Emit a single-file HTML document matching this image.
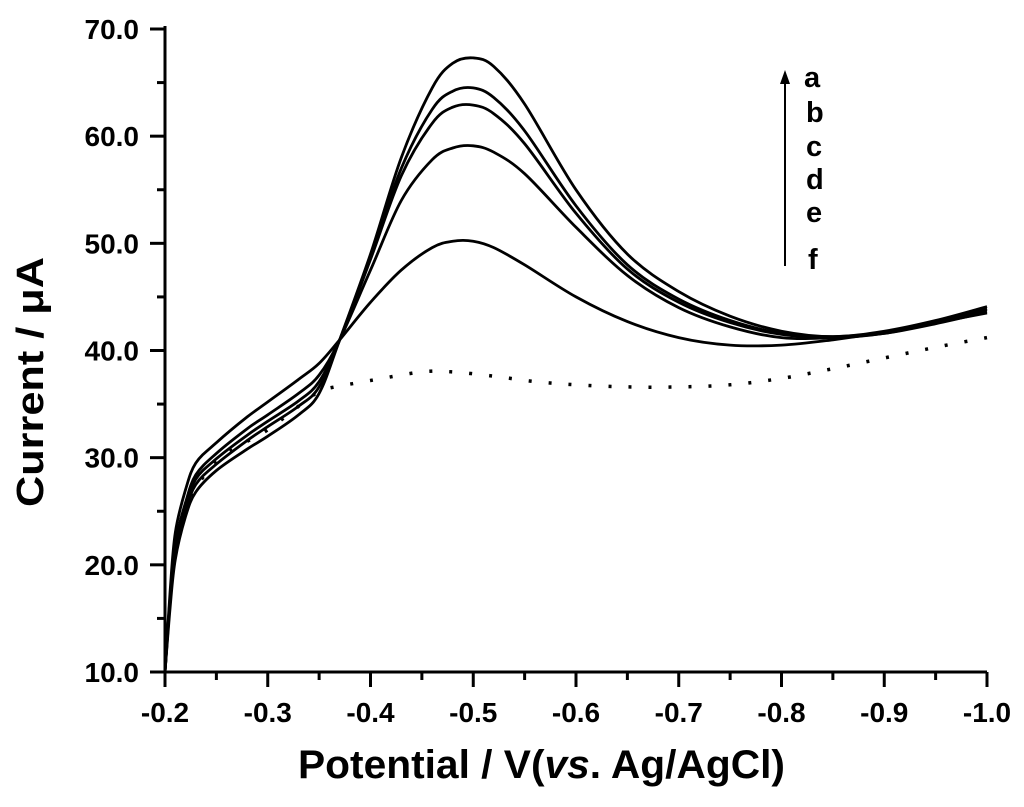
<!DOCTYPE html>
<html><head><meta charset="utf-8"><style>
html,body{margin:0;padding:0;background:#fff;}
svg{display:block;font-family:"Liberation Sans",Arial,sans-serif;font-weight:bold;}
</style></head><body>
<svg id="chart" width="1024" height="807" viewBox="0 0 1024 807" xmlns="http://www.w3.org/2000/svg">
<g id="axes"></g>
<g id="plot"></g>
<text x="0" y="0" transform="translate(43,382) rotate(-90)" text-anchor="middle" font-size="38" textLength="250" lengthAdjust="spacingAndGlyphs">Current / μA</text>
<text x="298" y="778" font-size="40" textLength="487" lengthAdjust="spacingAndGlyphs">Potential / V(<tspan font-style="italic">vs</tspan>. Ag/AgCl)</text>
<g>
<line x1="785" y1="266" x2="785" y2="80" stroke="#000" stroke-width="2"/>
<polygon points="785,70 780,84 790,84" fill="#000"/>
<text x="804" y="87" font-size="29">a</text>
<text x="806" y="122" font-size="29">b</text>
<text x="806" y="156" font-size="29">c</text>
<text x="806" y="189" font-size="29">d</text>
<text x="806" y="222" font-size="29">e</text>
<text x="808" y="269" font-size="29">f</text>
</g>
</svg>
<script>
const potentials = [-0.2,-0.205,-0.21,-0.22,-0.23,-0.25,-0.28,-0.30,-0.33,-0.35,-0.37,-0.40,-0.43,-0.46,-0.48,-0.50,-0.52,-0.55,-0.60,-0.65,-0.70,-0.75,-0.80,-0.85,-0.90,-0.95,-1.0];
const seriesA = [10,16,20.5,24.5,26.8,28.8,30.8,32,34,36,41,49,58,64.5,66.8,67.3,66.5,63,55,49,45.5,43.2,41.8,41.3,41.8,42.8,44.1];
const seriesB = [10,16.5,21,25,27.5,29.4,31.6,32.9,34.8,36.6,41,48.8,57,62.5,64.2,64.5,63.6,60.5,53.5,48,44.8,42.8,41.6,41.3,41.7,42.7,43.9];
const seriesC = [10,16.8,21.5,25.4,28,29.9,32.1,33.4,35.3,37.1,41,48.5,56.3,61.2,62.7,62.9,62.1,59.3,52.8,47.6,44.5,42.6,41.5,41.2,41.6,42.6,43.8];
const seriesD = [10,17,22,25.8,28.4,30.4,32.7,34,36,37.7,41,47.5,54,57.8,58.9,59.1,58.5,56.5,51.5,47,44,42.2,41.2,41.2,41.6,42.5,43.6];
const seriesE = [10,17.5,23,27,29.5,31.4,33.8,35.2,37.3,38.8,41,44.5,47.5,49.6,50.2,50.2,49.6,48,45,42.7,41.2,40.5,40.5,41,41.7,42.6,43.5];
const potentialsF = [-0.21,-0.22,-0.23,-0.25,-0.27,-0.30,-0.33,-0.35,-0.36,-0.40,-0.45,-0.48,-0.52,-0.56,-0.60,-0.65,-0.70,-0.75,-0.80,-0.85,-0.90,-0.95,-1.0];
const seriesF = [21,24.8,27.2,29.6,31,32.6,34.8,36.2,36.5,37.2,38,38,37.6,37.1,36.8,36.6,36.6,36.8,37.4,38.3,39.3,40.3,41.2];
const xTicks = ["-0.2","-0.3","-0.4","-0.5","-0.6","-0.7","-0.8","-0.9","-1.0"];
const yTicks = ["10.0","20.0","30.0","40.0","50.0","60.0","70.0"];

const X0=165,X1=987,Y0=672,Y1=29;
function xs(v){return X0+(-0.2-v)/0.8*(X1-X0);}
function ys(v){return Y0-(v-10)/60*(Y0-Y1);}
const NS="http://www.w3.org/2000/svg";
const axes=document.getElementById('axes');
function mk(tag,attrs,parent){const e=document.createElementNS(NS,tag);for(const k in attrs)e.setAttribute(k,attrs[k]);parent.appendChild(e);return e;}
let e;
e=mk('line',{x1:150,y1:Y0,x2:X1,y2:Y0,stroke:'#000','stroke-width':3},axes);


e=mk('line',{x1:X0,y1:Y0+1,x2:X0,y2:Y1-3,stroke:'#000','stroke-width':3},axes);


for(let i=0;i<=16;i++){
  const v=-0.2-i*0.05, x=xs(v), major=i%2===0;
  e=mk('line',{x1:x,y1:Y0,x2:x,y2:Y0+(major?15:8),stroke:'#000','stroke-width':3},axes);
  
  
}
xTicks.forEach(t=>{
  e=mk('text',{x:xs(parseFloat(t)),y:722,'text-anchor':'middle','font-size':28},axes);
  e.textContent=t;
  
  
});
for(let i=0;i<=12;i++){
  const v=10+i*5, y=ys(v), major=i%2===0;
  e=mk('line',{x1:X0,y1:y,x2:X0-(major?15:8),y2:y,stroke:'#000','stroke-width':3},axes);
  
  
}
yTicks.forEach(t=>{
  e=mk('text',{x:139,y:ys(parseFloat(t))+10,'text-anchor':'end','font-size':28},axes);
  e.textContent=t;
  
  
});
function pathD(xsArr,vals){
  const p=xsArr.map((x,i)=>[xs(x),ys(vals[i])]);
  let d='M'+p[0][0].toFixed(1)+','+p[0][1].toFixed(1);
  for(let i=0;i<p.length-1;i++){
    const a=p[Math.max(0,i-1)],b=p[i],c=p[i+1],dd=p[Math.min(p.length-1,i+2)];
    const c1=[b[0]+(c[0]-a[0])/6,b[1]+(c[1]-a[1])/6],c2=[c[0]-(dd[0]-b[0])/6,c[1]-(dd[1]-b[1])/6];
    d+=' C'+c1[0].toFixed(1)+','+c1[1].toFixed(1)+' '+c2[0].toFixed(1)+','+c2[1].toFixed(1)+' '+c[0].toFixed(1)+','+c[1].toFixed(1);
  }
  return d;
}
const plot=document.getElementById('plot');
const solid=[['a',seriesA],['b',seriesB],['c',seriesC],['d',seriesD],['e',seriesE]];
solid.forEach(([n,vals])=>{
  e=mk('path',{d:pathD(potentials,vals),fill:'none',stroke:'#000','stroke-width':2.8},plot);
  
  
});
e=mk('path',{d:pathD(potentialsF,seriesF),fill:'none',stroke:'#000','stroke-width':3.5,'stroke-dasharray':'3 17'},plot);


</script>
</body></html>
